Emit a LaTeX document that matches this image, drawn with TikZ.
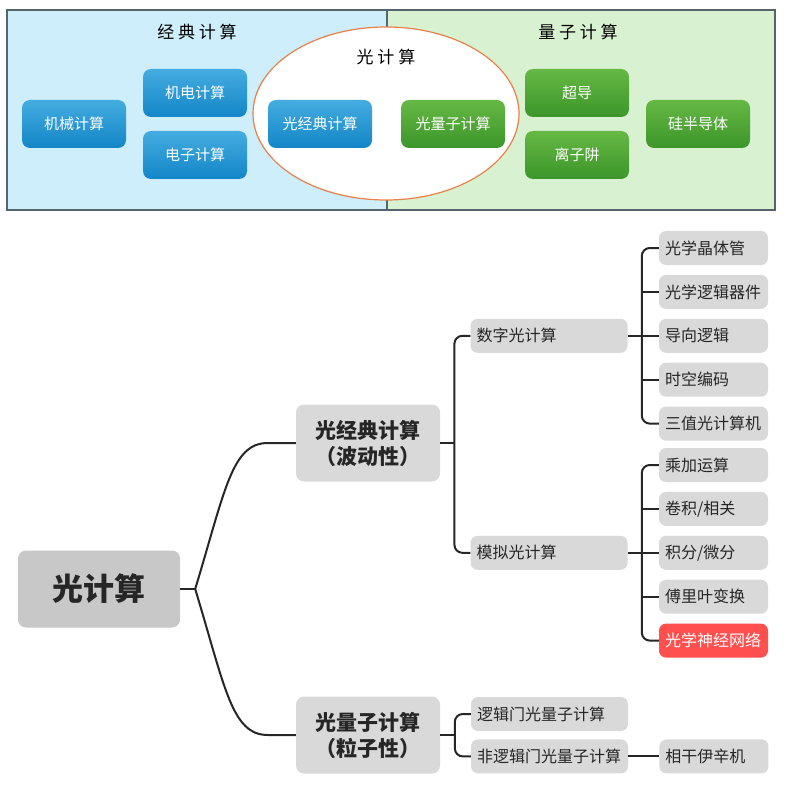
\documentclass[tikz,border=0pt]{standalone}
\usepackage{fontspec}
\setmainfont{Noto Sans CJK SC}
\usepackage{xcolor}
\usepackage{tikz}
\usetikzlibrary{positioning, shapes.geometric, calc}
\definecolor{panelblue}{HTML}{CDEEFA}
\definecolor{panelgreen}{HTML}{D8F1D0}
\definecolor{panelline}{HTML}{56646C}
\definecolor{ringline}{HTML}{E8804A}
\definecolor{bluetop}{HTML}{44ACE0}
\definecolor{bluebot}{HTML}{1386C8}
\definecolor{greentop}{HTML}{66B844}
\definecolor{greenbot}{HTML}{3C962A}
\definecolor{mapgray}{HTML}{D9D9D9}
\definecolor{rootgray}{HTML}{C8C8C8}
\definecolor{hotred}{HTML}{FF4F4F}
\definecolor{ink}{HTML}{262626}
\tikzset{
    base/.style={font=\fontsize{15}{18}\selectfont, align=center, inner sep=0pt, rounded corners=8pt, minimum width=104pt, minimum height=48pt, text=white},
    classic/.style={base, top color=bluetop, bottom color=bluebot},
    quantum/.style={base, top color=greentop, bottom color=greenbot},
    title/.style={font=\fontsize{17}{20}\selectfont, text=black},
    mapbase/.style={fill=mapgray, text=ink, rounded corners=7pt, inner xsep=6pt, inner ysep=0pt, minimum height=34pt, font=\fontsize{16}{19}\selectfont},
    leaf/.style={mapbase, text width=97pt, align=left},
    hotleaf/.style={leaf, fill=hotred, text=white},
    branch/.style={mapbase, text width=145pt, align=left},
    trunk/.style={fill=mapgray, text=ink, rounded corners=8pt, inner sep=0pt, minimum width=144pt, minimum height=77pt, align=center, font=\fontsize{21}{26}\selectfont\bfseries},
    rootbox/.style={fill=rootgray, text=ink, rounded corners=8pt, inner sep=0pt, minimum width=162pt, minimum height=77pt, font=\fontsize{31}{36}\selectfont\bfseries},
    line/.style={draw=ink, line width=2pt}
}
\begin{document}
\begin{tikzpicture}[x=1pt, y=1pt, node distance=9.5pt]
    \useasboundingbox (0,0) rectangle (784,-786);
    \fill [panelblue] (7,-10) rectangle (387,-210);
    \fill [panelgreen] (387,-10) rectangle (775,-210);
    \draw [panelline, line width=1.2pt] (7,-10) rectangle (775,-210) (387,-10) -- (387,-210);
    \draw [ringline, fill=white, line width=1.2pt] (386,-113.5) ellipse [x radius=133, y radius=86.5];

    \node [title] (ClassicTitle) at (197,-32) {经 典 计 算};
    \node [title] (QuantumTitle) at (578,-32) {量 子 计 算};
    \node [title] (LightTitle) at (386,-57) {光 计 算};

    \node [classic] (Mechanical) at (74,-124) {机械计算};
    \node [classic] (Electromech) at (195,-93) {机电计算};
    \node [classic] (Electronic) at (195,-155) {电子计算};
    \node [classic] (LightClassic) at (320,-124) {光经典计算};
    \node [quantum] (LightQuantum) at (453,-124) {光量子计算};
    \node [quantum] (Supercond) at (577,-93) {超导};
    \node [quantum] (IonTrap) at (577,-155) {离子阱};
    \node [quantum] (Silicon) at (698,-124) {硅半导体};

    \node [rootbox] (Root) at (99,-589) {光计算};
    \node [trunk] (Wave) at (368,-443) {光经典计算\\（波动性）};
    \node [trunk] (Particle) at (368,-735) {光量子计算\\（粒子性）};

    \node [leaf] (Transistor) at (713.5,-248) {光学晶体管};
    \node [leaf, below=of Transistor] (LogicDev) {光学逻辑器件};
    \node [leaf, below=of LogicDev] (Guided) {导向逻辑};
    \node [leaf, below=of Guided] (SpaceTime) {时空编码};
    \node [leaf, below=of SpaceTime] (Ternary) {三值光计算机};
    \node [leaf, below=7pt of Ternary] (MulAdd) {乘加运算};
    \node [leaf, below=of MulAdd] (Conv) {卷积/相关};
    \node [leaf, below=of Conv] (Integral) {积分/微分};
    \node [leaf, below=of Integral] (Fourier) {傅里叶变换};
    \node [hotleaf, below=of Fourier] (Neural) {光学神经网络};

    \node [branch, left=31pt of Guided] (Digital) {数字光计算};
    \node [branch, left=31pt of Integral] (Analog) {模拟光计算};
    \node [branch] (GateQ) at (549.5,-714) {逻辑门光量子计算};
    \node [branch, below=8pt of GateQ] (NonGateQ) {非逻辑门光量子计算};
    \node [leaf, right=31pt of NonGateQ] (Ising) {相干伊辛机};

    \draw [line] (Root.east) -- ++(15,0) coordinate (Hub);
    \draw [line] (Hub) .. controls +(30,99) and +(-36,0) .. ($(Wave.west)+(-28,0)$) -- (Wave.west);
    \draw [line] (Hub) .. controls +(30,-99) and +(-36,0) .. ($(Particle.west)+(-28,0)$) -- (Particle.west);

    \draw [line] (Wave.east) -- ++(15,0);
    \draw [line, rounded corners=8pt] (Digital.west) -- ++(-16,0) |- (Analog.west);
    \draw [line] (Particle.east) -- ++(15,0);
    \draw [line, rounded corners=8pt] (GateQ.west) -- ++(-16,0) |- (NonGateQ.west);

    \draw [line] (Digital.east) -- ++(14,0);
    \draw [line, rounded corners=8pt] (Transistor.west) -- ++(-17,0) |- (Ternary.west);
    \foreach \n in {LogicDev, Guided, SpaceTime}
        \draw [line] (\n.west) -- ++(-17,0);
    \draw [line] (Analog.east) -- ++(14,0);
    \draw [line, rounded corners=8pt] (MulAdd.west) -- ++(-17,0) |- (Neural.west);
    \foreach \n in {Conv, Integral, Fourier}
        \draw [line] (\n.west) -- ++(-17,0);
    \draw [line] (NonGateQ.east) -- (Ising.west);
\end{tikzpicture}
\end{document}
